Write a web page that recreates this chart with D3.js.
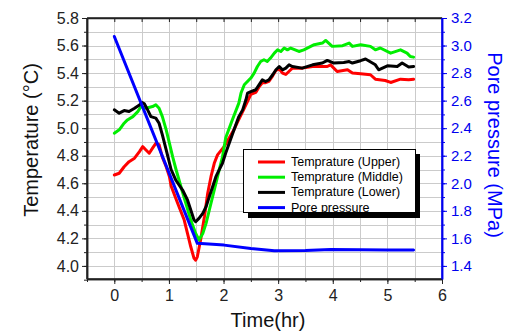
<!DOCTYPE html>
<html><head><meta charset="utf-8">
<script src="https://cdn.jsdelivr.net/npm/d3@7"></script>
<style>body{margin:0;background:#fff}svg{display:block}</style>
</head><body>
<svg id="c" width="507" height="333"></svg>
<script>
// ---- data ----
const timeUpper = [0,0.09,0.18,0.27,0.37,0.46,0.52,0.58,0.64,0.70,0.76,0.82,0.88,0.95,1.01,1.04,1.16,1.28,1.34,1.40,1.46,1.49,1.52,1.58,1.65,1.71,1.77,1.83,1.89,2.01,2.19,2.26,2.35,2.44,2.50,2.59,2.65,2.71,2.77,2.83,2.90,2.96,3.02,3.08,3.14,3.23,3.26,3.44,3.63,3.90,3.96,4.08,4.27,4.36,4.51,4.69,4.78,4.96,5.06,5.24,5.39,5.48];
const tempUpper = [4.66,4.673,4.72,4.757,4.782,4.83,4.866,4.842,4.818,4.855,4.89,4.88,4.79,4.72,4.648,4.58,4.455,4.333,4.236,4.139,4.055,4.042,4.066,4.188,4.357,4.527,4.648,4.745,4.806,4.866,4.988,5.048,5.12,5.194,5.245,5.26,5.30,5.33,5.33,5.34,5.38,5.42,5.43,5.40,5.39,5.424,5.436,5.436,5.448,5.448,5.46,5.412,5.424,5.40,5.395,5.388,5.356,5.346,5.332,5.356,5.351,5.356];

const timeMiddle = [0,0.09,0.18,0.24,0.34,0.43,0.49,0.58,0.70,0.76,0.82,0.88,0.95,1.01,1.07,1.13,1.22,1.31,1.40,1.49,1.55,1.62,1.68,1.74,1.80,1.86,1.92,1.98,2.04,2.16,2.28,2.32,2.38,2.50,2.56,2.62,2.68,2.74,2.80,2.86,2.93,2.99,3.05,3.11,3.17,3.23,3.38,3.47,3.66,3.81,3.87,3.99,4.18,4.30,4.36,4.51,4.69,4.78,4.87,5.06,5.24,5.36,5.42,5.48];
const tempMiddle = [4.964,4.988,5.036,5.06,5.084,5.12,5.157,5.145,5.157,5.17,5.145,5.084,4.988,4.89,4.79,4.70,4.575,4.455,4.333,4.236,4.188,4.236,4.309,4.406,4.503,4.60,4.697,4.79,4.93,5.06,5.182,5.255,5.315,5.364,5.40,5.448,5.484,5.497,5.484,5.509,5.545,5.569,5.557,5.582,5.569,5.582,5.557,5.569,5.606,5.618,5.637,5.594,5.599,5.618,5.594,5.606,5.594,5.569,5.582,5.545,5.569,5.545,5.52,5.516];

const timeLower = [0,0.09,0.18,0.27,0.37,0.46,0.51,0.55,0.61,0.67,0.76,0.82,0.88,0.95,1.04,1.13,1.25,1.34,1.40,1.46,1.49,1.55,1.62,1.68,1.74,1.80,1.86,1.92,1.98,2.04,2.13,2.22,2.28,2.35,2.41,2.44,2.50,2.59,2.65,2.71,2.77,2.83,2.90,2.96,3.02,3.08,3.14,3.20,3.26,3.44,3.63,3.81,3.90,4.02,4.20,4.30,4.36,4.51,4.60,4.78,4.84,5.00,5.18,5.27,5.39,5.48];
const tempLower = [5.133,5.109,5.128,5.121,5.145,5.169,5.186,5.177,5.133,5.084,5.073,5.036,4.951,4.842,4.70,4.62,4.551,4.479,4.406,4.333,4.321,4.345,4.382,4.43,4.503,4.575,4.648,4.697,4.745,4.82,4.92,5.02,5.084,5.133,5.206,5.255,5.266,5.279,5.315,5.351,5.339,5.351,5.388,5.424,5.448,5.424,5.436,5.46,5.448,5.436,5.46,5.473,5.492,5.473,5.477,5.484,5.473,5.49,5.502,5.46,5.424,5.453,5.448,5.473,5.444,5.448];

const timePressure = [0,1.52,2.01,2.50,2.93,3.50,3.96,4.50,5.00,5.48];
const porePressure = [3.066,1.564,1.551,1.527,1.51,1.512,1.52,1.518,1.516,1.515];

const xTicks = [0,1,2,3,4,5,6];
const tempTicks = [4.0,4.2,4.4,4.6,4.8,5.0,5.2,5.4,5.6,5.8];
const presTicks = [1.4,1.6,1.8,2.0,2.2,2.4,2.6,2.8,3.0,3.2];
const legendLabels = ["Temprature (Upper)","Temprature (Middle)","Temprature (Lower)","Pore pressure"];
const seriesColors = ["#ff0000","#00ee00","#000000","#0000ff"];

// ---- layout ----
const svg = d3.select("#c");
const L=87, R=442, T=18, B=279;
const x = d3.scaleLinear().domain([-0.5,6]).range([L,R]);
const y = d3.scaleLinear().domain([3.905,5.8]).range([B,T]);
const yP = d3.scaleLinear().domain([1.305,3.2]).range([B,T]);
const font = "'Liberation Sans', Arial, sans-serif";

// grid
const g = svg.append("g");
const vGrid = d3.range(0,6.01,0.5);
g.selectAll(".vg").data(vGrid).enter().append("line")
  .attr("x1",d=>Math.round(x(d))+0.5).attr("x2",d=>Math.round(x(d))+0.5)
  .attr("y1",T).attr("y2",B).attr("stroke","#cbcbcb").attr("stroke-width",1);
const hGrid = d3.range(40,58).map(v=>v/10);
g.selectAll(".hg").data(hGrid).enter().append("line")
  .attr("y1",d=>Math.round(y(d))+0.5).attr("y2",d=>Math.round(y(d))+0.5)
  .attr("x1",L).attr("x2",R).attr("stroke","#cbcbcb").attr("stroke-width",1);

// lines
const line = d3.line().x(d=>x(d[0])).y(d=>d[2](d[1]));
function draw(ts, vs, sc, col){
  svg.append("path").datum(ts.map((t,i)=>[t,vs[i],sc]))
    .attr("d",line).attr("fill","none").attr("stroke",col)
    .attr("stroke-width",3).attr("stroke-linejoin","round").attr("stroke-linecap","round");
}
draw(timeUpper,tempUpper,y,seriesColors[0]);
draw(timeMiddle,tempMiddle,y,seriesColors[1]);
draw(timeLower,tempLower,y,seriesColors[2]);
draw(timePressure,porePressure,yP,seriesColors[3]);

// axes
function styleAxis(sel,col){
  sel.selectAll("path").attr("stroke",col).attr("stroke-width",1.5);
  sel.selectAll("line").attr("stroke",col).attr("stroke-width",1);
  sel.selectAll("text").attr("fill",col).style("font-family",font);
}
// bottom
const ab = svg.append("g").attr("transform",`translate(0,${B})`)
  .call(d3.axisBottom(x).tickValues(d3.range(-0.5,6.01,0.5)).tickFormat("").tickSize(3).tickSizeOuter(0));
styleAxis(ab,"#222");
const abM = svg.append("g").attr("transform",`translate(0,${B})`)
  .call(d3.axisBottom(x).tickValues(xTicks).tickSize(5).tickPadding(6).tickFormat(d3.format("d")).tickSizeOuter(0));
styleAxis(abM,"#222"); abM.selectAll("text").style("font-size","16px");
// top
const at = svg.append("g").attr("transform",`translate(0,${T})`)
  .call(d3.axisBottom(x).tickValues(d3.range(0,6.01,0.5)).tickFormat("").tickSize(4).tickSizeOuter(0));
styleAxis(at,"#222");
// left
const al = svg.append("g").attr("transform",`translate(${L},0)`)
  .call(d3.axisLeft(y).tickValues(d3.range(39,59).map(v=>v/10)).tickFormat("").tickSize(3).tickSizeOuter(0));
styleAxis(al,"#222");
const alM = svg.append("g").attr("transform",`translate(${L},0)`)
  .call(d3.axisLeft(y).tickValues(tempTicks).tickSize(5).tickPadding(3).tickFormat(d3.format(".1f")).tickSizeOuter(0));
styleAxis(alM,"#222"); alM.selectAll("text").style("font-size","16px");
// right
const ar = svg.append("g").attr("transform",`translate(${R},0)`)
  .call(d3.axisRight(yP).tickValues(d3.range(14,33).map(v=>v/10)).tickFormat("").tickSize(3).tickSizeOuter(0));
styleAxis(ar,"#0000ee");
const arM = svg.append("g").attr("transform",`translate(${R},0)`)
  .call(d3.axisRight(yP).tickValues(presTicks).tickSize(5).tickPadding(4).tickFormat(d3.format(".1f")).tickSizeOuter(0));
styleAxis(arM,"#0000ee"); arM.selectAll("text").style("font-size","15px");

// frame lines
svg.append("line").attr("x1",L).attr("x2",R).attr("y1",T).attr("y2",T).attr("stroke","#222").attr("stroke-width",1.5);
svg.append("line").attr("x1",L).attr("x2",L).attr("y1",T).attr("y2",B).attr("stroke","#222").attr("stroke-width",1.5);
svg.append("line").attr("x1",L).attr("x2",R).attr("y1",B).attr("y2",B).attr("stroke","#222").attr("stroke-width",1.5);
svg.append("line").attr("x1",R).attr("x2",R).attr("y1",T).attr("y2",B).attr("stroke","#0000ee").attr("stroke-width",1.5);

// titles
svg.append("text").attr("transform","translate(31,140) rotate(-90)")
  .attr("text-anchor","middle").attr("dominant-baseline","central")
  .style("font-family",font).style("font-size","20px").attr("fill","#111")
  .text("Temperature (°C)");
svg.append("text").attr("transform","translate(495,145) rotate(90)")
  .attr("text-anchor","middle").attr("dominant-baseline","central")
  .style("font-family",font).style("font-size","20px").attr("fill","#0000ff")
  .text("Pore pressure (MPa)");
svg.append("text").attr("x",268).attr("y",327).attr("text-anchor","middle")
  .style("font-family",font).style("font-size","20px").attr("fill","#111")
  .text("Time(hr)");

// legend
const lg = svg.append("g");
lg.append("rect").attr("x",248).attr("y",154).attr("width",172).attr("height",64).attr("fill","#000");
lg.append("rect").attr("x",243.5).attr("y",149.5).attr("width",172).attr("height",63).attr("fill","#fff").attr("stroke","#000").attr("stroke-width",1);
legendLabels.forEach((lab,i)=>{
  const yy = 162 + i*15.2;
  lg.append("line").attr("x1",258).attr("x2",285).attr("y1",yy).attr("y2",yy)
    .attr("stroke",seriesColors[i]).attr("stroke-width",3);
  lg.append("text").attr("x",291).attr("y",yy).attr("dominant-baseline","central")
    .style("font-family",font).style("font-size","12.5px").attr("fill","#000").text(lab);
});
</script>
</body></html>
